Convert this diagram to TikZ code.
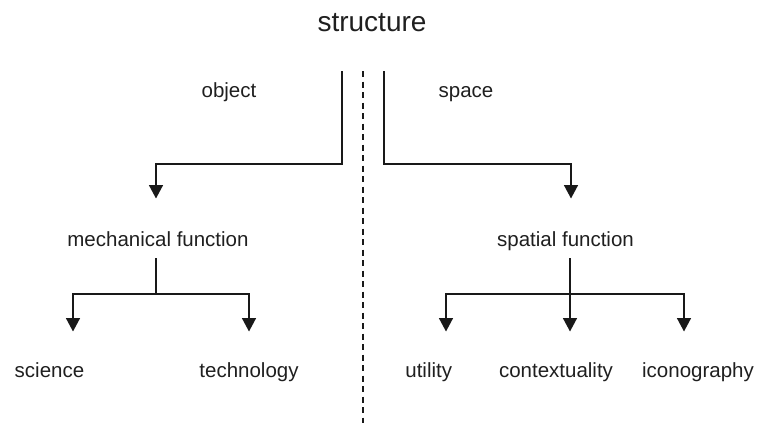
\documentclass[tikz,border=0pt]{standalone}
\usepackage{fontspec}
\setmainfont{Liberation Sans}
\usetikzlibrary{arrows.meta}
\begin{document}
\begin{tikzpicture}[x=1pt,y=-1pt,
  lbl/.style={inner sep=0pt,anchor=base,font=\fontsize{20.5}{24}\selectfont,text=black!88},
  ttl/.style={inner sep=0pt,anchor=base,font=\fontsize{28}{32}\selectfont,text=black!88},
  conn/.style={line width=1.6pt,black!90},
  arr/.style={conn,-{Triangle[width=14pt,length=13.5pt]}},
  sep/.style={line width=1.2pt,black!90,dash pattern=on 6pt off 4.5pt}]
\useasboundingbox (0,0) rectangle (768,423);
% texts
\node[ttl] (structure) at (372,31.5) {structure};
\node[lbl] (object) at (229,97) {object};
\node[lbl] (space) at (466,97) {space};
\node[lbl] (mech) at (158,246.5) {mechanical function};
\node[lbl] (spat) at (565.5,246.5) {spatial function};
\node[lbl] (science) at (49.5,377) {science};
\node[lbl] (tech) at (249,377) {technology};
\node[lbl] (util) at (428.7,377) {utility};
\node[lbl] (ctx) at (556,377) {contextuality};
\node[lbl] (icon) at (698,377) {iconography};
% coordinates
\coordinate (dtop) at (363,71);
\coordinate (dbot) at (363,423);
\coordinate (ltop) at (342,71);
\coordinate (lcorner) at (342,164);
\coordinate (lturn) at (156,164);
\coordinate (ltip) at (156,198.5);
\coordinate (rtop) at (384,71);
\coordinate (rcorner) at (384,164);
\coordinate (rturn) at (571,164);
\coordinate (rtip) at (571,198.5);
\coordinate (mstem) at (156,258);
\coordinate (mbar) at (156,294);
\coordinate (mbl) at (73,294);
\coordinate (mbr) at (249,294);
\coordinate (mtl) at (73,331.5);
\coordinate (mtr) at (249,331.5);
\coordinate (sstem) at (570,258);
\coordinate (sbl) at (446,294);
\coordinate (sbr) at (684,294);
\coordinate (stl) at (446,331.5);
\coordinate (stm) at (570,331.5);
\coordinate (str) at (684,331.5);
% separator
\draw[sep] (dtop) -- (dbot);
% connectors
\draw[arr] (ltop) -- (lcorner) -- (lturn) -- (ltip);
\draw[arr] (rtop) -- (rcorner) -- (rturn) -- (rtip);
\draw[conn] (mstem) -- (mbar);
\draw[arr] (mbar) -- (mbl) -- (mtl);
\draw[arr] (mbar) -- (mbr) -- (mtr);
\draw[arr] (sstem) -- (stm);
\draw[arr] (sstem |- sbl) -- (sbl) -- (stl);
\draw[arr] (sstem |- sbr) -- (sbr) -- (str);
\end{tikzpicture}
\end{document}
